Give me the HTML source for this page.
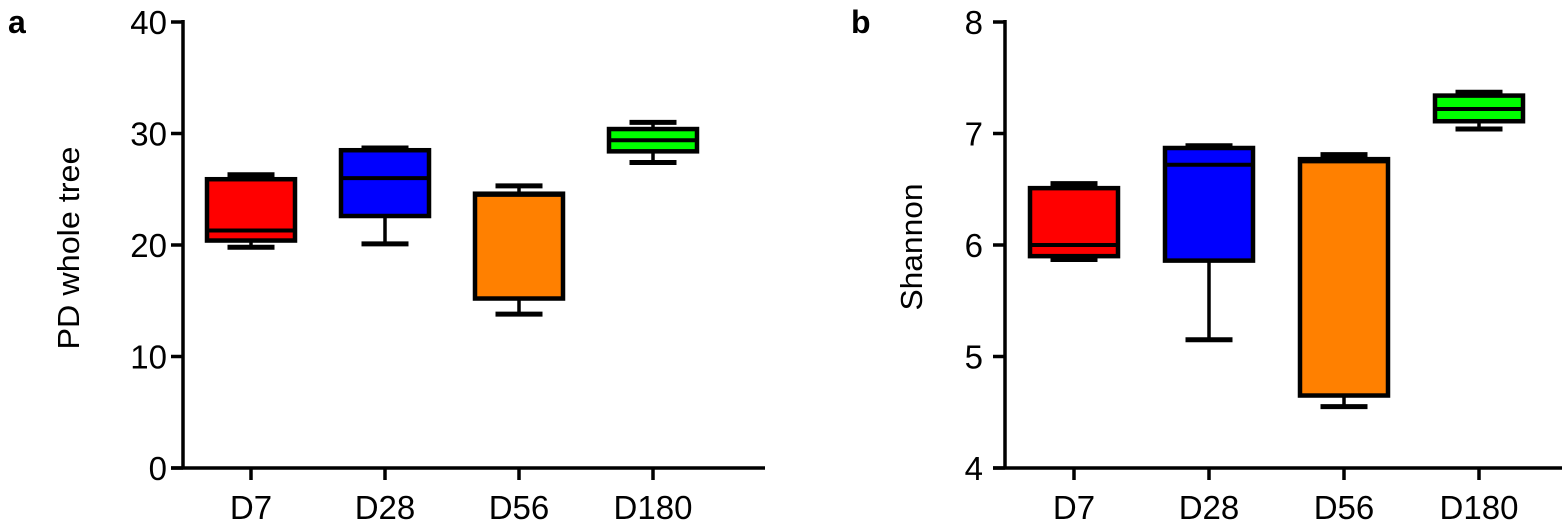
<!DOCTYPE html>
<html><head><meta charset="utf-8"><style>
body{margin:0;background:#fff;}
svg{display:block;font-family:"Liberation Sans",sans-serif;}
</style></head><body>
<svg id="chart" width="1564" height="522" viewBox="0 0 1564 522">
<text x="8" y="33" font-size="32" font-weight="bold">a</text>
<text x="851" y="33" font-size="32" font-weight="bold">b</text>
<g id="pa"></g>
<g id="pb"></g>
</svg>
<script>
const categories=["D7","D28","D56","D180"];
const colors=["#ff0000","#0000ff","#ff8000","#00ff00"];
const aMin=[19.8,20.1,13.8,27.4];
const aQ1=[20.4,22.6,15.2,28.4];
const aMed=[21.3,26.0,24.5,29.4];
const aQ3=[25.9,28.5,24.6,30.4];
const aMax=[26.3,28.7,25.3,31.0];
const aTicks=[0,10,20,30,40];
const bMin=[5.87,5.15,4.55,7.04];
const bQ1=[5.90,5.86,4.65,7.11];
const bMed=[6.00,6.72,6.75,7.22];
const bQ3=[6.51,6.87,6.77,7.34];
const bMax=[6.55,6.89,6.81,7.37];
const bTicks=[4,5,6,7,8];
const NS="http://www.w3.org/2000/svg";
function mk(p,t,a){const e=document.createElementNS(NS,t);for(const k in a)e.setAttribute(k,a[k]);p.appendChild(e);return e;}
function panel(g,cfg){
  const y=v=>468-(v-cfg.lo)/(cfg.hi-cfg.lo)*446;
  const x=i=>cfg.xFirst+i*cfg.step;
  const ax=mk(g,'line',{x1:cfg.x0,y1:20,x2:cfg.x0,y2:469.5,stroke:'#000','stroke-width':3.5});
  
  const xa=mk(g,'line',{x1:cfg.x0-12,y1:468,x2:cfg.xEnd,y2:468,stroke:'#000','stroke-width':3.5});
  
  cfg.ticks.forEach(t=>{
    const tl=mk(g,'line',{x1:cfg.x0-12,y1:y(t),x2:cfg.x0,y2:y(t),stroke:'#000','stroke-width':3.5});
    
    const tx=mk(g,'text',{x:cfg.labelX,y:y(t)+12,'font-size':33,'text-anchor':'end'});tx.textContent=t;
    
  });
  const ta={x:cfg.titleX,y:cfg.titleY,'font-size':31,'text-anchor':'middle',textLength:cfg.titleLen,lengthAdjust:'spacingAndGlyphs',transform:`rotate(-90 ${cfg.titleX} ${cfg.titleY})`};
  const tt=mk(g,'text',ta);
  tt.textContent=cfg.title;
  categories.forEach((c,i)=>{
    const cx=x(i);
    const xt=mk(g,'line',{x1:cx,y1:468,x2:cx,y2:480,stroke:'#000','stroke-width':3.5});
    
    const lb=mk(g,'text',{x:cx,y:519,'font-size':33,'text-anchor':'middle'});lb.textContent=c;
    
    const bg=mk(g,'g',{});
    const w=cfg.bw,cw=cfg.cw;
    mk(bg,'line',{x1:cx,y1:y(cfg.max[i]),x2:cx,y2:y(cfg.q3[i]),stroke:'#000','stroke-width':3.5});
    mk(bg,'line',{x1:cx,y1:y(cfg.min[i]),x2:cx,y2:y(cfg.q1[i]),stroke:'#000','stroke-width':3.5});
    mk(bg,'line',{x1:cx-cw/2,y1:y(cfg.max[i]),x2:cx+cw/2,y2:y(cfg.max[i]),stroke:'#000','stroke-width':5});
    mk(bg,'line',{x1:cx-cw/2,y1:y(cfg.min[i]),x2:cx+cw/2,y2:y(cfg.min[i]),stroke:'#000','stroke-width':5});
    mk(bg,'rect',{x:cx-w/2,y:y(cfg.q3[i]),width:w,height:y(cfg.q1[i])-y(cfg.q3[i]),fill:colors[i],stroke:'#000','stroke-width':4.5});
    mk(bg,'line',{x1:cx-w/2,y1:y(cfg.med[i]),x2:cx+w/2,y2:y(cfg.med[i]),stroke:'#000','stroke-width':4});
  });
}
panel(document.getElementById('pa'),{lo:0,hi:40,x0:183,xEnd:765,xFirst:251,step:134,bw:88,cw:47,ticks:aTicks,labelX:167,title:'PD whole tree',titleX:79,titleY:248,titleLen:203,min:aMin,q1:aQ1,med:aMed,q3:aQ3,max:aMax});
panel(document.getElementById('pb'),{lo:4,hi:8,x0:1005,xEnd:1562,xFirst:1074,step:135,bw:88,cw:47,ticks:bTicks,labelX:983,title:'Shannon',titleX:922,titleY:247,titleLen:127,min:bMin,q1:bQ1,med:bMed,q3:bQ3,max:bMax});
</script>
</body></html>
